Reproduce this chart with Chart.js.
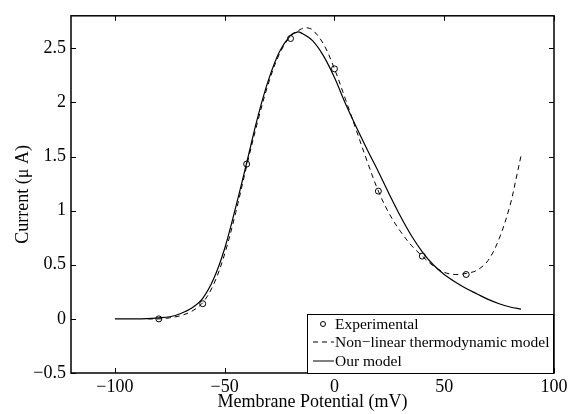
<!DOCTYPE html>
<html>
<head>
<meta charset="utf-8">
<script src="https://cdn.jsdelivr.net/npm/chart.js@4"></script>
<style>
  html, body { margin: 0; padding: 0; background: #fff; }
  #wrap { width: 582px; height: 414px; }
</style>
</head>
<body>
<div id="wrap"><canvas id="ivChart" width="582" height="414"></canvas></div>
<script>
// =============================
// DATA
// =============================
const expX = [-80, -60, -40, -20, 0, 20, 40, 60];
const expY = [0.0, 0.14, 1.43, 2.59, 2.31, 1.18, 0.58, 0.41];

const nlX = [-85, -80, -75, -70, -65, -60, -55, -50, -45, -40, -35, -30, -25, -20, -15, -13, -10, -5, 0, 5,
             10, 15, 20, 25, 30, 35, 40, 45, 50, 55, 60, 65, 70, 75, 80, 83, 85];
const nlY = [0, 0, 0.01, 0.03, 0.07, 0.15, 0.32, 0.6, 0.98, 1.41, 1.82, 2.18, 2.45, 2.61, 2.68, 2.69, 2.67, 2.54, 2.31, 2.03,
             1.74, 1.45, 1.18, 0.97, 0.81, 0.68, 0.58, 0.49, 0.43, 0.41, 0.42, 0.45, 0.54, 0.74, 1.05, 1.32, 1.51];

const ourX = [-100, -90, -80, -75, -70, -65, -60, -55, -50, -45, -40, -35, -30, -25, -20, -17, -15, -10, -5, 0,
              5, 10, 15, 20, 25, 30, 35, 40, 45, 50, 55, 60, 65, 70, 75, 80, 85];
const ourY = [0, 0, 0.01, 0.02, 0.05, 0.1, 0.19, 0.37, 0.65, 1.03, 1.44, 1.86, 2.21, 2.47, 2.62, 2.65, 2.64, 2.57, 2.43, 2.23,
              1.99, 1.77, 1.56, 1.36, 1.15, 0.95, 0.77, 0.62, 0.5, 0.41, 0.34, 0.28, 0.23, 0.18, 0.14, 0.11, 0.09];

const xTicks = [-100, -50, 0, 50, 100];
const yTicks = [-0.5, 0, 0.5, 1, 1.5, 2, 2.5];

const seriesLabels = ["Experimental", "Non\u2212linear thermodynamic model", "Our model"];

// =============================
// HELPERS
// =============================
const FONT = "'Liberation Serif', 'Times New Roman', serif";

function toPoints(xs, ys) {
    return xs.map((x, i) => ({ x: x, y: ys[i] }));
}

function fmtTick(v) {
    return String(v).replace("-", "\u2212");
}

// inward ticks on all four sides + box frame (MATLAB look)
const frameTicks = {
    id: "frameTicks",
    afterDatasetsDraw(chart) {
        const { ctx, chartArea: a, scales } = chart;
        const len = 5;
        ctx.save();
        ctx.strokeStyle = "#000";
        ctx.lineWidth = 1;
        ctx.beginPath();
        scales.x.ticks.forEach(t => {
            const px = Math.round(scales.x.getPixelForValue(t.value)) + 0.5;
            ctx.moveTo(px, a.bottom); ctx.lineTo(px, a.bottom - len);
            ctx.moveTo(px, a.top); ctx.lineTo(px, a.top + len);
        });
        scales.y.ticks.forEach(t => {
            const py = Math.round(scales.y.getPixelForValue(t.value)) + 0.5;
            ctx.moveTo(a.left, py); ctx.lineTo(a.left + len, py);
            ctx.moveTo(a.right, py); ctx.lineTo(a.right - len, py);
        });
        ctx.stroke();
        ctx.lineWidth = 1.5;
        ctx.strokeRect(a.left, a.top, a.right - a.left, a.bottom - a.top);
        ctx.restore();
    }
};

// legend box drawn inside the lower right corner
const insideLegend = {
    id: "insideLegend",
    afterDraw(chart) {
        const { ctx, chartArea: a } = chart;
        const w = 246, h = 59;
        const x0 = a.right - w - 1, y0 = a.bottom - h;
        ctx.save();
        ctx.fillStyle = "#fff";
        ctx.fillRect(x0, y0, w, h);
        ctx.strokeStyle = "#000";
        ctx.lineWidth = 1;
        ctx.strokeRect(x0 + 0.5, y0 + 0.5, w, h);

        const rows = [y0 + 10, y0 + 28, y0 + 47];
        const ds = chart.data.datasets;
        ctx.font = "15.5px " + FONT;
        ctx.textBaseline = "middle";
        ctx.fillStyle = "#000";
        ds.forEach((d, i) => {
            const y = rows[i];
            ctx.beginPath();
            if (d.showLine) {
                ctx.setLineDash(d.borderDash || []);
                ctx.moveTo(x0 + 6, y);
                ctx.lineTo(x0 + 27, y);
                ctx.stroke();
                ctx.setLineDash([]);
            } else {
                ctx.arc(x0 + 16, y, 2.5, 0, Math.PI * 2);
                ctx.stroke();
            }
            ctx.fillText(d.label, x0 + 28, y + 1);
        });
        ctx.restore();
    }
};

// =============================
// CHART
// =============================
const canvas = document.getElementById("ivChart");

new Chart(canvas, {
    type: "scatter",
    data: {
        datasets: [
            {
                label: seriesLabels[0],
                data: toPoints(expX, expY),
                showLine: false,
                pointStyle: "circle",
                pointRadius: 3,
                pointBorderWidth: 1,
                pointBorderColor: "#000",
                pointBackgroundColor: "rgba(255,255,255,0)",
                order: 0
            },
            {
                label: seriesLabels[1],
                data: toPoints(nlX, nlY),
                showLine: true,
                borderColor: "#000",
                borderWidth: 1,
                borderDash: [5, 4],
                pointRadius: 0,
                tension: 0.35,
                order: 1
            },
            {
                label: seriesLabels[2],
                data: toPoints(ourX, ourY),
                showLine: true,
                borderColor: "#000",
                borderWidth: 1.2,
                pointRadius: 0,
                tension: 0.35,
                order: 2
            }
        ]
    },
    options: {
        responsive: false,
        animation: false,
        events: [],
        layout: { padding: { top: 7, right: 28, left: 0, bottom: 0 } },
        plugins: {
            legend: { display: false },
            tooltip: { enabled: false }
        },
        scales: {
            x: {
                type: "linear",
                min: -120,
                max: 100,
                afterBuildTicks: s => { s.ticks = xTicks.map(v => ({ value: v })); },
                afterFit: s => { s.height = 41; },
                grid: { display: false, drawTicks: false },
                border: { display: false },
                ticks: {
                    color: "#000",
                    padding: 3,
                    maxRotation: 0,
                    font: { family: FONT, size: 18 },
                    callback: v => fmtTick(v)
                },
                title: {
                    display: true,
                    text: "Membrane Potential (mV)",
                    color: "#000",
                    font: { family: FONT, size: 18 },
                    padding: { top: 0, bottom: 1 }
                }
            },
            y: {
                type: "linear",
                min: -0.5,
                max: 2.8,
                afterBuildTicks: s => { s.ticks = yTicks.map(v => ({ value: v })); },
                afterFit: s => { s.width = 71; },
                grid: { display: false, drawTicks: false },
                border: { display: false },
                ticks: {
                    color: "#000",
                    padding: 5,
                    font: { family: FONT, size: 18 },
                    callback: v => fmtTick(v)
                },
                title: {
                    display: true,
                    text: "Current (\u03bc A)",
                    color: "#000",
                    font: { family: FONT, size: 18 },
                    padding: { top: 12, bottom: 0 }
                }
            }
        }
    },
    plugins: [frameTicks, insideLegend]
});
</script>
</body>
</html>
